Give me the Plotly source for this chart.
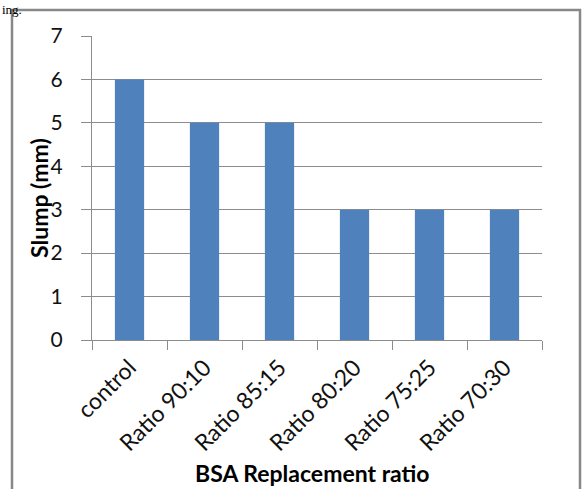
import plotly.graph_objects as go

categories = ["control", "Ratio 90:10", "Ratio 85:15", "Ratio 80:20", "Ratio 75:25", "Ratio 70:30"]
slump_mm = [6, 5, 5, 3, 3, 3]
y_ticks = [0, 1, 2, 3, 4, 5, 6, 7]

W, H = 582, 489
L, R, T, B = 92, 40, 36, 149
pw, ph = W - L - R, H - T - B

def px_x(x):
    return (x - L) / pw

def px_y(y):
    return (H - B - y) / ph

fig = go.Figure(go.Bar(x=categories, y=slump_mm, marker=dict(color="#4F81BD", line=dict(width=0))))

font = "Lato, Open Sans, sans-serif"
fig.update_layout(
    width=W, height=H,
    margin=dict(l=L, r=R, t=T, b=B),
    paper_bgcolor="white", plot_bgcolor="white",
    bargap=0.61,
    showlegend=False,
    font=dict(family=font, color="#000000"),
)
fig.update_xaxes(
    type="category",
    tickangle=-45,
    tickfont=dict(size=23, family=font, color="#111111"),
    ticks="outside", ticklen=9, tickcolor="#8c8c8c", tickson="boundaries",
    ticklabelstandoff=4,
    showline=True, linecolor="#8c8c8c", linewidth=1,
    showgrid=False, automargin=False,
)
fig.update_yaxes(
    range=[0, 7],
    tickvals=y_ticks,
    tickfont=dict(size=21, family=font, color="#111111"),
    ticks="outside", ticklen=10, tickcolor="#8c8c8c",
    ticklabelstandoff=14,
    showline=True, linecolor="#8c8c8c", linewidth=1,
    showgrid=True, gridcolor="#8c8c8c", gridwidth=1,
    zeroline=False, automargin=False,
)

# outer frame of the chart
fig.add_shape(type="rect", xref="paper", yref="paper",
              x0=px_x(12), x1=px_x(580), y0=px_y(10), y1=px_y(520),
              line=dict(color="#888888", width=2.5), fillcolor="rgba(0,0,0,0)", layer="below")

fig.add_annotation(text="<b>Slump (mm)</b>", xref="paper", yref="paper",
                   x=px_x(39), y=px_y(198), textangle=-90, showarrow=False,
                   font=dict(size=23, family=font), xanchor="center", yanchor="middle")
fig.add_annotation(text="<b>BSA Replacement ratio</b>", xref="paper", yref="paper",
                   x=px_x(312), y=px_y(473), showarrow=False,
                   font=dict(size=23, family=font), xanchor="center", yanchor="middle")
fig.add_annotation(text="ing.", xref="paper", yref="paper",
                   x=px_x(0), y=px_y(0), showarrow=False,
                   font=dict(size=13, family="Liberation Serif, serif"),
                   xanchor="left", yanchor="top")

fig.write_html("out.html")
